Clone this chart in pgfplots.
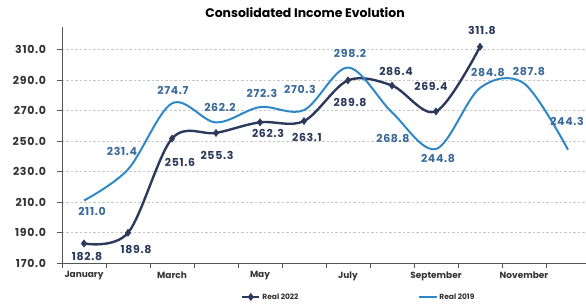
\documentclass[border=0pt]{standalone}
\usepackage{pgfplots}
\pgfplotsset{compat=1.18}
\usepackage{pgfplotstable}
\usepackage{fontspec}
\setmainfont{Poppins}
\newfontfamily\numfont{Poppins}[LetterSpace=6]
\definecolor{navy}{HTML}{2B3A5C}
\definecolor{blue19}{HTML}{2E88C8}
\definecolor{lbl19}{HTML}{3A6A9A}
\definecolor{txt}{HTML}{333333}
\definecolor{gridc}{HTML}{C8C8C8}
\definecolor{axc}{HTML}{555555}

\pgfplotstableread{
x y dx dy
0 182.8 3 -13
1 189.8 8 -17
2 251.6 8 -24
3 255.3 1 -22
4 262.3 8 -11
5 263.1 3 -16
6 289.8 2 -22
7 286.4 4 14
8 269.4 -5 25
9 311.8 2 16
}\realtwentytwo

\pgfplotstableread{
x y dx dy
0 211.0 8 -11
1 231.4 -6 18
2 274.7 1 13
3 262.2 4 15
4 272.3 2 14
5 270.3 -4 21
6 298.2 2 14
7 268.8 1 -26
8 244.8 2 -10
9 284.8 8 15
10 287.8 5 12
11 244.3 -1 28
}\realnineteen

\begin{document}
\begin{tikzpicture}
\begin{axis}[
  at={(62bp,45bp)}, anchor=south west,
  scale only axis, width=528bp, height=236bp,
  xmin=-0.5, xmax=11.5, ymin=170, ymax=324.8,
  axis lines*=left,
  axis line style={-, draw=axc, line width=0.9pt},
  xtick={-0.5,0.5,...,11.5}, xticklabels={},
  extra x ticks={0,2,4,6,8,10},
  extra x tick labels={January,March,May,July,September,November},
  extra x tick style={major tick length=0pt, grid=none},
  ytick={170,190,...,310},
  tick align=outside, major tick length=4.5bp,
  tick style={draw=axc, line width=0.6pt},
  ymajorgrids, grid style={dash pattern=on 2.5pt off 2pt, gridc, line width=0.5pt},
  yticklabel style={font=\numfont\bfseries\fontsize{11}{13}\selectfont, text=txt, xshift=-8bp},
  xticklabel style={font=\bfseries\fontsize{9}{11}\selectfont, text=txt, yshift=-5bp},
  /pgf/number format/.cd, fixed, fixed zerofill, precision=1, assume math mode=true, 1000 sep={},
  /pgfplots/.cd,
  clip=false,
  nodes near coords,
  visualization depends on={\thisrow{dx} \as \dx},
  visualization depends on={\thisrow{dy} \as \dy},
  every node near coord/.append style={anchor=center, xshift=\dx bp, yshift=\dy bp, font=\numfont\bfseries\fontsize{11}{13}\selectfont},
  legend style={at={(0.562,-0.144)}, anchor=center, draw=none, fill=none,
    legend columns=2, font=\bfseries\fontsize{7.5}{9}\selectfont, text=txt,
    /tikz/every even column/.append style={column sep=118bp}},
  legend cell align=left,
]
\addplot[smooth, tension=0.55, navy, line width=2.4pt, mark=diamond*, mark size=3.6bp,
  mark options={fill=navy, draw=navy, line width=0.5pt},
  every node near coord/.append style={text=navy}]
  table[x=x, y=y] {\realtwentytwo};
\addlegendentry{Real 2022}
\addplot[smooth, tension=0.55, blue19, line width=2pt, mark=none,
  every node near coord/.append style={text=lbl19}]
  table[x=x, y=y] {\realnineteen};
\addlegendentry{Real 2019}
\end{axis}
\node[font=\bfseries\fontsize{12.5}{14}\selectfont, text=black] at (305bp,295bp) {Consolidated Income Evolution};
\pgfresetboundingbox
\path[use as bounding box] (0,0) rectangle (586bp,308bp);
\end{tikzpicture}
\end{document}
